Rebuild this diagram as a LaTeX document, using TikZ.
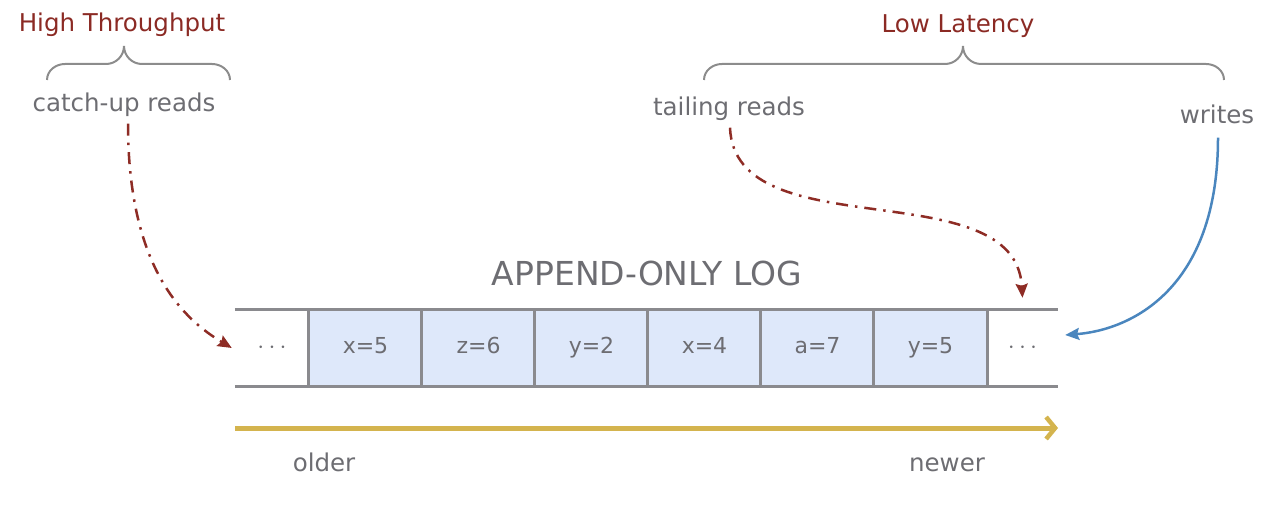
\documentclass[tikz,border=0pt]{standalone}
\usepackage{fontspec}
\setmainfont{DejaVu Sans}
\usetikzlibrary{arrows.meta}
\definecolor{txtgray}{HTML}{6D6D72}
\definecolor{titlered}{HTML}{8B2A24}
\definecolor{rdarrow}{HTML}{8E2C25}
\definecolor{blarrow}{HTML}{4A86BE}
\definecolor{ylarrow}{HTML}{D4B44E}
\definecolor{cellfill}{HTML}{DEE8FA}
\definecolor{border}{HTML}{8A8A8E}
\definecolor{bracegray}{HTML}{8C8C8C}
\tikzset{
  lbl/.style={text=txtgray,font=\fontsize{24.5}{28}\selectfont,inner sep=0pt,text height=18pt,text depth=5pt},
  ttl/.style={text=titlered,font=\fontsize{24.5}{28}\selectfont,inner sep=0pt,text height=18pt,text depth=5pt},
  cellbox/.style={fill=cellfill,minimum height=76pt,minimum width=113pt,inner sep=0pt,text=txtgray,font=\fontsize{22}{26}\selectfont,text height=16pt,text depth=4pt},
  endbox/.style={minimum height=76pt,inner sep=0pt,text=txtgray,font=\fontsize{30}{34}\selectfont},
  sep/.style={draw=border,line width=3pt},
  bracestyle/.style={draw=bracegray,line width=2pt},
  rdpath/.style={draw=rdarrow,line width=2.5pt,dash pattern=on 12pt off 7pt on 2.5pt off 7pt,-{Stealth[length=14pt,width=12pt,inset=2pt]}},
  blpath/.style={draw=blarrow,line width=2.5pt,-{Stealth[length=14pt,width=12pt,inset=2pt]}},
}
\begin{document}
\begin{tikzpicture}[x=1pt,y=1pt]
\useasboundingbox (0,0) rectangle (1272,-529);
% cells
\node[endbox,minimum width=74pt] (c0) at (272,-348) {$\cdots$};
\node[cellbox] (c1) at (365.5,-348) {x=5};
\node[cellbox] (c2) at (478.5,-348) {z=6};
\node[cellbox] (c3) at (591.5,-348) {y=2};
\node[cellbox] (c4) at (704.5,-348) {x=4};
\node[cellbox] (c5) at (817.5,-348) {a=7};
\node[cellbox] (c6) at (930.5,-348) {y=5};
\node[endbox,minimum width=71pt] (c7) at (1022.5,-348) {$\cdots$};
\draw[sep] (c0.north west) -- (c7.north east);
\draw[sep] (c0.south west) -- (c7.south east);
\foreach \n in {1,...,6} {\draw[sep] (c\n.north west) -- (c\n.south west);}
\draw[sep] (c6.north east) -- (c6.south east);
\node[text=txtgray,font=\fontsize{33}{38}\selectfont,inner sep=0pt] (title) at (647,-273) {APPEND-ONLY LOG};
% timeline
\coordinate (tl0) at (235,-428);
\coordinate (tl1) at (1058,-428);
\draw[draw=ylarrow,line width=5pt,-{Straight Barb[length=9pt,width=22pt,line width=4.5pt]}] (tl0) -- (tl1);
\node[lbl] (older) at (324,-465) {older};
\node[lbl] (newer) at (947,-465) {newer};
% top labels
\node[ttl] (ht) at (122,-25) {High Throughput};
\node[ttl] (ll) at (958,-26) {Low Latency};
\node[lbl] (cu) at (124,-105) {catch-up reads};
\node[lbl] (tr) at (729,-109) {tailing reads};
\node[lbl] (wr) at (1217,-117) {writes};
% braces
\draw[bracestyle] (47,-80) to[out=90,in=180] (65,-64) -- (106,-64) to[out=0,in=-90] (124,-46) to[out=-90,in=180] (142,-64) -- (212,-64) to[out=0,in=90] (230,-80);
\draw[bracestyle] (704,-80) to[out=90,in=180] (722,-64) -- (945,-64) to[out=0,in=-90] (963,-46) to[out=-90,in=180] (981,-64) -- (1206,-64) to[out=0,in=90] (1224,-80);
% connectors
\draw[rdpath] (cu.south) ++(4,-7) .. controls (128,-270) and (185,-320) .. ([xshift=-3pt]c0.west);
\draw[rdpath] (tr.south) ++(1,-7) .. controls (735,-250) and (1015,-170) .. ([yshift=12pt]c7.north);
\draw[blpath] (wr.south) ++(1,-9) .. controls (1218,-290) and (1130,-330) .. ([xshift=7pt,yshift=13pt]c7.east);
\end{tikzpicture}
\end{document}
